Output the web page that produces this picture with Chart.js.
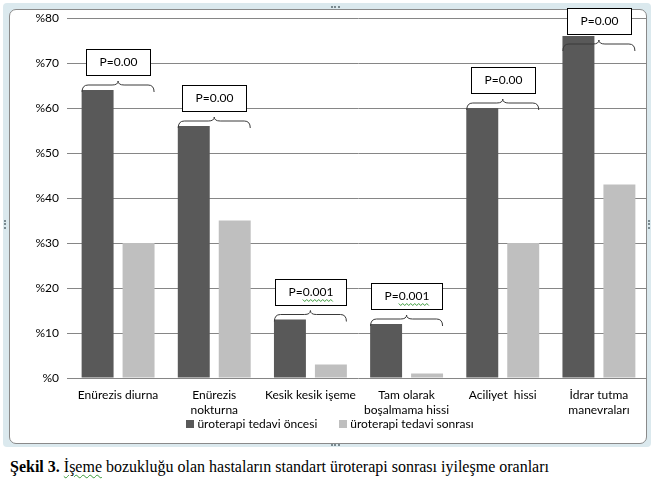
<!DOCTYPE html>
<html>
<head>
<meta charset="utf-8">
<script src="https://cdn.jsdelivr.net/npm/chart.js@4.4.1/dist/chart.umd.min.js"></script>
<style>
  html, body { margin:0; padding:0; background:#fff; width:671px; height:487px; overflow:hidden; }
  #outer { position:absolute; left:3px; top:3px; width:648px; height:444px; background:#dbe9ee; border-radius:4px; }
  #inner { position:absolute; left:9px; top:9px; width:636px; height:433px; background:#fff; border:1px solid #8a8a8a; border-radius:7px; }
  #wrap { position:absolute; left:0; top:0; width:671px; height:450px; }
  .dots { position:absolute; border-top:2px dotted #7a8a90; }
  .vdots { position:absolute; border-left:2px dotted #7a8a90; }
  #caption { position:absolute; left:10px; top:458px; font-family:"Liberation Serif","Times New Roman",serif; font-size:16px; color:#000; white-space:nowrap; }
  .sp { text-decoration: underline wavy #3a9a3a; text-decoration-thickness:1px; text-underline-offset:2px; }
</style>
</head>
<body>
<div id="outer"></div>
<div id="inner"></div>
<div class="dots" style="left:331px;top:6px;width:9px;"></div>
<div class="dots" style="left:331px;top:444px;width:9px;"></div>
<div class="vdots" style="left:4px;top:220px;height:9px;"></div>
<div class="vdots" style="left:648px;top:220px;height:9px;"></div>
<div id="wrap"><canvas id="c" width="671" height="450"></canvas></div>
<div id="caption"><b>Şekil 3.</b> <span class="sp">İşeme</span> bozukluğu olan hastaların standart üroterapi sonrası iyileşme oranları</div>
<script>
const categories = [
  ['Enürezis diurna'],
  ['Enürezis', 'nokturna'],
  ['Kesik kesik işeme'],
  ['Tam olarak', 'boşalmama hissi'],
  ['Aciliyet  hissi'],
  ['İdrar tutma', 'manevraları']
];
const seriesNames = ['üroterapi tedavi öncesi', 'üroterapi tedavi sonrası'];
const before = [64, 56, 13, 12, 60, 76];
const after = [30, 35, 3, 1, 30, 43];
const pValues = ['P=0.00', 'P=0.00', 'P=0.001', 'P=0.001', 'P=0.00', 'P=0.00'];
const yTicks = [0, 10, 20, 30, 40, 50, 60, 70, 80];

const FONT = 'Lato, "Open Sans", sans-serif';

const annotPlugin = {
  id: 'annot',
  afterDatasetsDraw(chart) {
    const ctx = chart.ctx, xs = chart.scales.x, ys = chart.scales.y;
    ctx.save();
    pValues.forEach((p, i) => {
      const cx = xs.getPixelForValue(i);
      const topPx = ys.getPixelForValue(Math.max(before[i], after[i]));
      ctx.font = '12px ' + FONT;
      const tw = ctx.measureText(p).width;
      const bw = Math.round(tw + 26), bh = 26;
      let braceBottom = topPx + 2;
      let braceTop = braceBottom - 11;
      let boxBottom = braceTop - 6;
      let boxTop = boxBottom - bh;
      const minTop = 8;
      if (boxTop < minTop) {
        const d = minTop - boxTop;
        boxTop += d; boxBottom += d; braceTop += d; braceBottom += d;
      }
      const hw = 36, r = 6;
      const xl = cx - hw, xr = cx + hw, yl = braceTop + 4;
      ctx.beginPath();
      ctx.moveTo(xl, braceBottom);
      ctx.quadraticCurveTo(xl, yl, xl + r, yl);
      ctx.lineTo(cx - r, yl);
      ctx.quadraticCurveTo(cx, yl, cx, braceTop);
      ctx.quadraticCurveTo(cx, yl, cx + r, yl);
      ctx.lineTo(xr - r, yl);
      ctx.quadraticCurveTo(xr, yl, xr, braceBottom);
      ctx.strokeStyle = '#3a3a3a';
      ctx.lineWidth = 1;
      ctx.stroke();
      const bx = Math.round(cx - bw / 2) + 0.5, by = Math.round(boxTop) + 0.5;
      ctx.fillStyle = '#fff';
      ctx.fillRect(bx, by, bw, bh);
      ctx.strokeStyle = '#000';
      ctx.strokeRect(bx, by, bw, bh);
      ctx.fillStyle = '#000';
      ctx.textAlign = 'center';
      ctx.textBaseline = 'middle';
      ctx.fillText(p, bx + bw / 2, by + bh / 2);
      if (p.indexOf('0.001') >= 0) {
        const pre = ctx.measureText('P=').width;
        const sx = bx + bw / 2 - tw / 2 + pre, ex = bx + bw / 2 + tw / 2;
        const uy = by + bh / 2 + 8;
        ctx.beginPath();
        for (let x = sx, k = 0; x <= ex; x += 2, k++) {
          const yy = uy + (k % 2 ? 1 : -1);
          if (k === 0) ctx.moveTo(x, yy); else ctx.lineTo(x, yy);
        }
        ctx.strokeStyle = '#3a9a3a';
        ctx.stroke();
      }
    });
    ctx.restore();
  }
};

const legendPlugin = {
  id: 'customLegend',
  afterDraw(chart) {
    const ctx = chart.ctx;
    ctx.save();
    ctx.font = '12px ' + FONT;
    ctx.textBaseline = 'middle';
    ctx.textAlign = 'left';
    const box = 8, gap = 3, spacing = 22;
    const ds = chart.data.datasets;
    const widths = ds.map(d => box + gap + ctx.measureText(d.label).width);
    const total = widths.reduce((a, b) => a + b, 0) + spacing * (ds.length - 1);
    let x = 330 - total / 2;
    const y = 424;
    ds.forEach((d, i) => {
      ctx.fillStyle = d.backgroundColor;
      ctx.fillRect(Math.round(x), y - 4, box, box);
      ctx.fillStyle = '#000';
      ctx.fillText(d.label, x + box + gap, y);
      x += widths[i] + spacing;
    });
    ctx.restore();
  }
};

new Chart(document.getElementById('c'), {
  type: 'bar',
  data: {
    labels: categories,
    datasets: [
      { label: seriesNames[0], data: before, backgroundColor: '#595959' },
      { label: seriesNames[1], data: after, backgroundColor: '#bfbfbf' }
    ]
  },
  options: {
    responsive: false,
    animation: false,
    devicePixelRatio: 1,
    layout: { padding: { left: 0, right: 24, top: 18, bottom: 0 } },
    plugins: { legend: { display: false }, tooltip: { enabled: false } },
    datasets: { bar: { categoryPercentage: 0.852, barPercentage: 0.78 } },
    scales: {
      x: {
        grid: { display: false },
        border: { display: false },
        ticks: { color: '#000', font: { family: FONT, size: 12, lineHeight: 1.25 }, padding: 2, maxRotation: 0, autoSkip: false },
        afterFit(s) { s.height = 72; }
      },
      y: {
        min: 0, max: 80,
        afterBuildTicks(s) { s.ticks = yTicks.map(v => ({ value: v })); },
        ticks: { color: '#000', font: { family: FONT, size: 12 }, padding: 8, callback: v => '%' + v },
        grid: { color: '#868686', lineWidth: 1, tickLength: 3 },
        border: { display: false },
        afterFit(s) { s.width = 70; }
      }
    }
  },
  plugins: [annotPlugin, legendPlugin]
});
</script>
</body>
</html>
